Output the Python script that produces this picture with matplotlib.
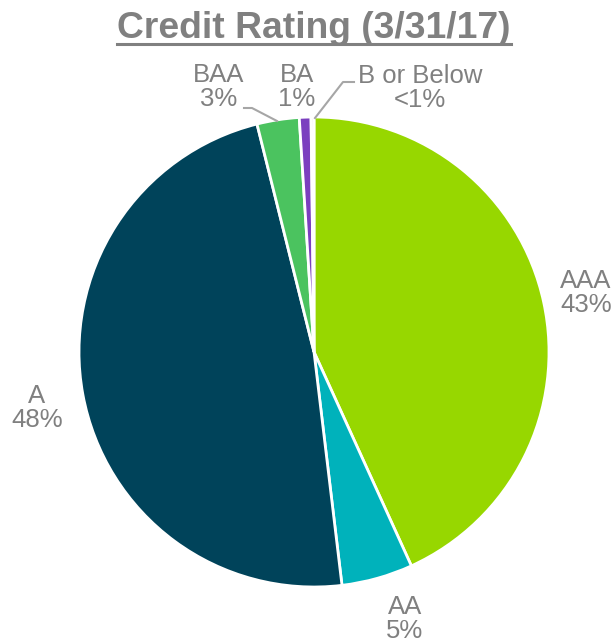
import matplotlib.pyplot as plt
from matplotlib.lines import Line2D

# Credit rating breakdown as of 3/31/17 (percent of portfolio)
ratings = ["AAA", "AA", "A", "BAA", "BA", "B or Below"]
shares = [43.2, 4.9, 48.0, 2.9, 0.8, 0.2]
pct_labels = ["43%", "5%", "48%", "3%", "1%", "<1%"]
colors = ["#97D700", "#00B2BB", "#00435A", "#4BC35F", "#7B3FBF", "#D9D9D9"]

W, H = 614, 644
GREY = "#808080"

plt.rcParams["font.family"] = ["Liberation Sans", "DejaVu Sans"]

fig = plt.figure(figsize=(W / 100, H / 100), dpi=100)
ax = fig.add_axes([0, 0, 1, 1])

# pie in pixel-like coordinates (y measured upward)
cx, cy, r = 314, H - 352, 235
ax.pie(
    shares,
    colors=colors,
    startangle=90,
    counterclock=False,
    center=(cx, cy),
    radius=r,
    wedgeprops=dict(edgecolor="white", linewidth=2),
)
ax.set_xlim(0, W)
ax.set_ylim(0, H)
ax.set_aspect("equal")
ax.axis("off")

# label positions (pixel coords from top-left)
label_pos = [(586, 293), (405, 619), (37, 408), (219, 87), (297, 87), (420, 88)]
for name, pct, (px, py) in zip(ratings, pct_labels, label_pos):
    ax.text(px, H - py, f"{name}\n{pct}", ha="center", va="center",
            fontsize=18.5, color=GREY, linespacing=1.0)

# leader lines for the small slices
leaders = [
    [(244, 108), (252, 108), (277, 121)],
    [(354, 82), (343, 82), (315, 118)],
]
for pts in leaders:
    xs = [p[0] for p in pts]
    ys = [H - p[1] for p in pts]
    ax.add_line(Line2D(xs, ys, color="#A6A6A6", lw=1.5))

# underlined title
title = ax.text(314, H - 38, "Credit Rating (3/31/17)", ha="center", va="baseline",
                fontsize=26.8, fontweight="bold", color=GREY)
fig.canvas.draw()
bb = title.get_window_extent().transformed(ax.transData.inverted())
ax.add_line(Line2D([bb.x0, bb.x1], [H - 44, H - 44], color=GREY, lw=2.2))

fig.savefig("out.png", dpi=100)
